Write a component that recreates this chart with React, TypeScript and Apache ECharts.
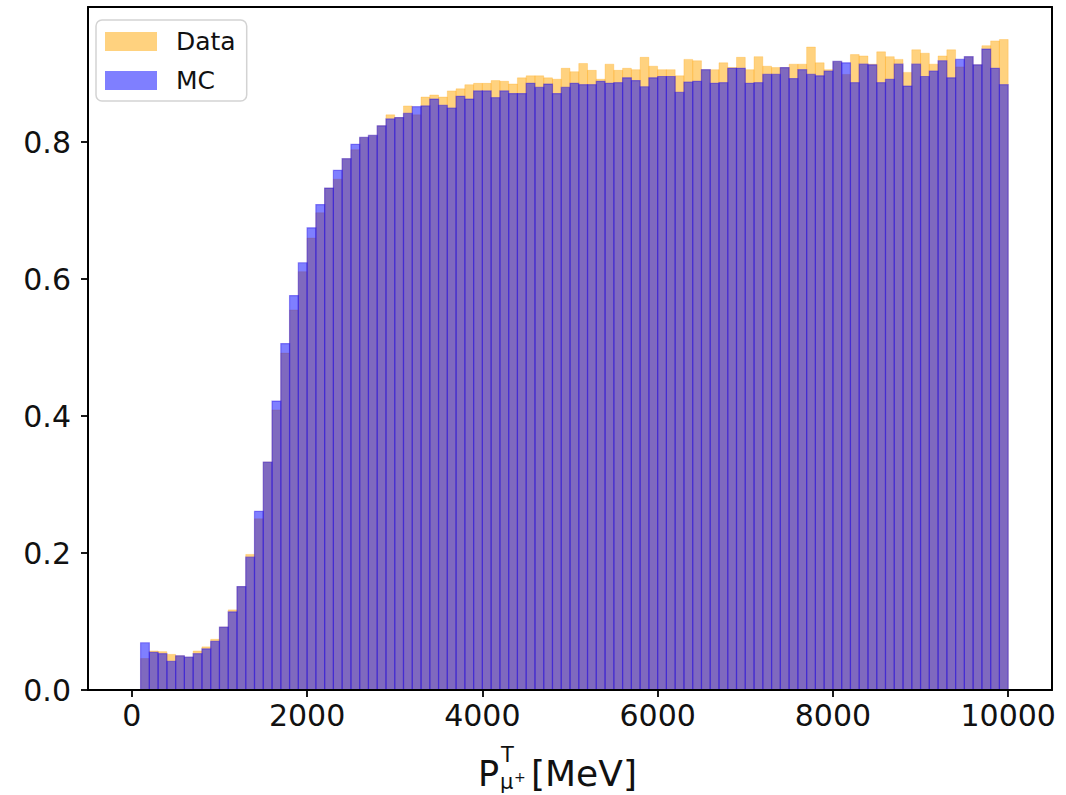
import React, { useEffect, useRef } from "react";
import * as echarts from "echarts";

// Bin edges of the histogram [MeV] (100 bins from 0 to 10000; first bin empty)
const binEdges = [
  0, 100, 200, 300, 400, 500, 600, 700, 800, 900, 1000,
  1100, 1200, 1300, 1400, 1500, 1600, 1700, 1800, 1900, 2000,
  2100, 2200, 2300, 2400, 2500, 2600, 2700, 2800, 2900, 3000,
  3100, 3200, 3300, 3400, 3500, 3600, 3700, 3800, 3900, 4000,
  4100, 4200, 4300, 4400, 4500, 4600, 4700, 4800, 4900, 5000,
  5100, 5200, 5300, 5400, 5500, 5600, 5700, 5800, 5900, 6000,
  6100, 6200, 6300, 6400, 6500, 6600, 6700, 6800, 6900, 7000,
  7100, 7200, 7300, 7400, 7500, 7600, 7700, 7800, 7900, 8000,
  8100, 8200, 8300, 8400, 8500, 8600, 8700, 8800, 8900, 9000,
  9100, 9200, 9300, 9400, 9500, 9600, 9700, 9800, 9900, 10000,
];

const dataValues = [
  0,
  0.046, 0.057, 0.056, 0.052, 0.050, 0.048, 0.057, 0.063, 0.074, 0.092,
  0.117, 0.151, 0.198, 0.250, 0.333, 0.409, 0.492, 0.555, 0.611, 0.660,
  0.697, 0.733, 0.746, 0.776, 0.789, 0.807, 0.810, 0.824, 0.840, 0.836,
  0.853, 0.840, 0.866, 0.869, 0.866, 0.875, 0.878, 0.884, 0.886, 0.886,
  0.890, 0.889, 0.885, 0.894, 0.897, 0.897, 0.894, 0.892, 0.908, 0.903,
  0.915, 0.905, 0.892, 0.914, 0.905, 0.908, 0.906, 0.924, 0.911, 0.906,
  0.906, 0.897, 0.921, 0.919, 0.906, 0.906, 0.916, 0.909, 0.924, 0.906,
  0.925, 0.911, 0.909, 0.909, 0.914, 0.914, 0.939, 0.916, 0.906, 0.918,
  0.899, 0.928, 0.926, 0.914, 0.932, 0.925, 0.921, 0.902, 0.935, 0.930,
  0.914, 0.926, 0.935, 0.910, 0.925, 0.913, 0.941, 0.948, 0.950,
];

const mcValues = [
  0,
  0.069, 0.055, 0.053, 0.042, 0.050, 0.048, 0.053, 0.060, 0.071, 0.092,
  0.114, 0.151, 0.194, 0.261, 0.333, 0.422, 0.506, 0.576, 0.624, 0.675,
  0.709, 0.733, 0.759, 0.776, 0.797, 0.807, 0.810, 0.824, 0.834, 0.836,
  0.842, 0.852, 0.853, 0.863, 0.854, 0.850, 0.867, 0.863, 0.875, 0.875,
  0.865, 0.875, 0.871, 0.871, 0.886, 0.880, 0.885, 0.871, 0.880, 0.886,
  0.884, 0.884, 0.889, 0.886, 0.887, 0.894, 0.890, 0.881, 0.894, 0.896,
  0.896, 0.873, 0.888, 0.889, 0.906, 0.886, 0.887, 0.908, 0.908, 0.886,
  0.887, 0.899, 0.899, 0.909, 0.893, 0.906, 0.899, 0.897, 0.904, 0.918,
  0.916, 0.887, 0.914, 0.913, 0.887, 0.892, 0.914, 0.882, 0.914, 0.896,
  0.904, 0.919, 0.894, 0.921, 0.925, 0.913, 0.936, 0.908, 0.884,
];

const xTickValues = [0, 2000, 4000, 6000, 8000, 10000];
const yTickValues = [0, 0.2, 0.4, 0.6, 0.8];
const seriesNames = ["Data", "MC"];

const FONT = "DejaVu Sans";
const TXT = "#111";

function toRects(values: number[]) {
  return values
    .map((v, i) => [binEdges[i], binEdges[i + 1], v])
    .filter((d) => d[2] > 0);
}

function makeRender(fill: string, stroke: string, lw: number) {
  return (params: any, api: any) => {
    const p0 = api.coord([api.value(0), api.value(2)]);
    const p1 = api.coord([api.value(1), 0]);
    return {
      type: "rect",
      shape: { x: p0[0], y: p0[1], width: p1[0] - p0[0], height: p1[1] - p0[1] },
      style: { fill, stroke, lineWidth: lw },
    };
  };
}

export default function App() {
  const ref = useRef<HTMLDivElement>(null);
  useEffect(() => {
    if (!ref.current) return;
    const chart = echarts.init(ref.current, undefined, { renderer: "svg" });
    const dataColor = "rgba(255,165,0,0.5)";
    const mcColor = "rgba(0,0,255,0.5)";
    const axisLine = { show: true, onZero: false, lineStyle: { color: "#000", width: 2 } };
    const tickStyle = { color: "#000", width: 1.8 };
    const labelStyle = { fontFamily: FONT, fontSize: 30, color: TXT };
    chart.setOption({
      animation: false,
      backgroundColor: "#fff",
      grid: { left: 88, right: 14, top: 7, bottom: 105 },
      legend: {
        orient: "vertical",
        left: 96,
        top: 20,
        data: seriesNames.map((n) => ({ name: n, icon: "rect" })),
        itemWidth: 52,
        itemHeight: 19,
        itemGap: 14,
        padding: [9, 11, 8, 9],
        backgroundColor: "rgba(255,255,255,0.8)",
        borderColor: "#d3d3d3",
        borderWidth: 1.5,
        borderRadius: 6,
        textStyle: {
          fontFamily: FONT,
          fontSize: 25,
          lineHeight: 22,
          color: TXT,
          padding: [0, 0, 0, 14],
        },
      },
      xAxis: [
        {
          type: "value",
          min: -500,
          max: 10500,
          z: 10,
          axisLine,
          splitLine: { show: false },
          axisTick: { show: true, length: 7, lineStyle: tickStyle, customValues: xTickValues },
          axisLabel: {
            ...labelStyle,
            margin: 10,
            customValues: xTickValues,
            formatter: (v: number) => String(v),
          },
        },
        {
          type: "value",
          position: "top",
          min: -500,
          max: 10500,
          z: 10,
          axisLine,
          splitLine: { show: false },
          axisTick: { show: false },
          axisLabel: { show: false },
        },
      ],
      yAxis: [
        {
          type: "value",
          min: 0,
          max: 0.9975,
          z: 10,
          axisLine,
          splitLine: { show: false },
          axisTick: { show: true, length: 7, lineStyle: tickStyle, customValues: yTickValues },
          axisLabel: {
            ...labelStyle,
            margin: 17,
            customValues: yTickValues,
            formatter: (v: number) => v.toFixed(1),
          },
        },
        {
          type: "value",
          position: "right",
          min: 0,
          max: 0.9975,
          z: 10,
          axisLine,
          splitLine: { show: false },
          axisTick: { show: false },
          axisLabel: { show: false },
        },
      ],
      graphic: [
        { type: "text", x: 478, y: 774, style: { text: "P", font: `35px '${FONT}'`, fill: TXT, verticalAlign: "middle" } },
        { type: "text", x: 501, y: 755, style: { text: "T", font: `21px '${FONT}'`, fill: TXT, verticalAlign: "middle" } },
        { type: "text", x: 500, y: 782, style: { text: "μ", font: `21px '${FONT}'`, fill: TXT, verticalAlign: "middle" } },
        { type: "text", x: 514, y: 777, style: { text: "+", font: `14px '${FONT}'`, fill: TXT, verticalAlign: "middle" } },
        { type: "text", x: 531, y: 773, style: { text: "[MeV]", font: `36px '${FONT}'`, fill: TXT, verticalAlign: "middle" } },
      ],
      series: [
        {
          name: "Data",
          type: "custom",
          renderItem: makeRender(dataColor, "rgba(255,165,0,0.25)", 1),
          encode: { x: [0, 1], y: 2 },
          itemStyle: { color: dataColor },
          data: toRects(dataValues),
          z: 2,
        },
        {
          name: "MC",
          type: "custom",
          renderItem: makeRender(mcColor, "rgba(40,20,230,0.45)", 1.2),
          encode: { x: [0, 1], y: 2 },
          itemStyle: { color: mcColor },
          data: toRects(mcValues),
          z: 3,
        },
      ],
    });
    return () => chart.dispose();
  }, []);
  return (
    <div
      ref={ref}
      style={{ position: "fixed", left: 0, top: 0, width: 1066, height: 795 }}
    />
  );
}
